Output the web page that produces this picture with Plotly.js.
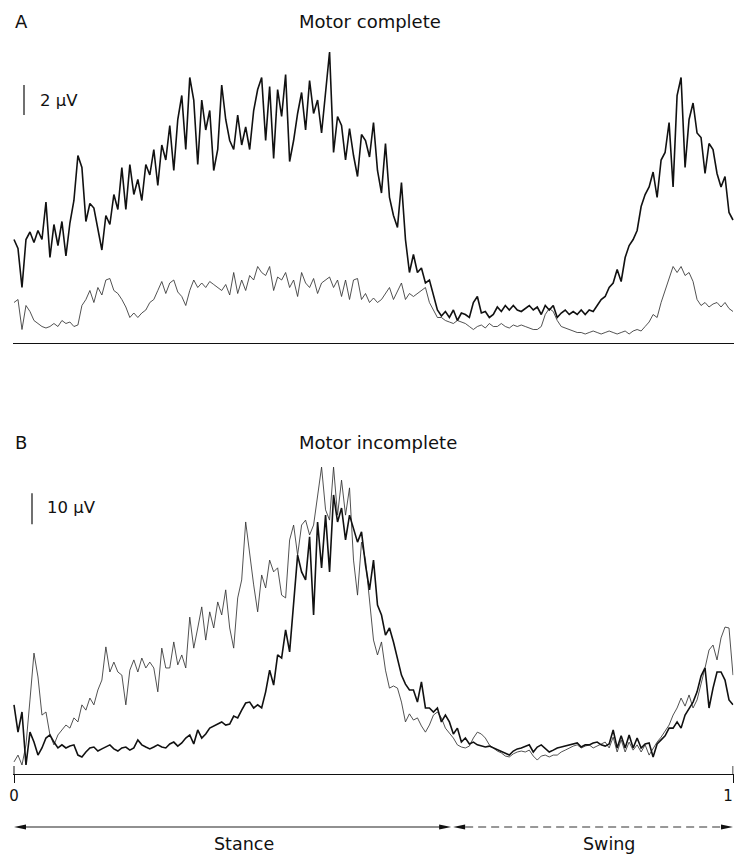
<!DOCTYPE html>
<html>
<head>
<meta charset="utf-8">
<script src="https://cdn.plot.ly/plotly-3.0.1.min.js"></script>
<style>html,body{margin:0;padding:0;background:#fff;}#chart{width:734px;height:856px;}</style>
</head>
<body>
<div id="chart"></div>
<script>
// ---------- DATA (EMG amplitude, µV, sampled uniformly over one gait cycle) ----------
// Panel A – motor complete
const completeThick = [6.9,6.3,3.7,6.9,7.4,6.7,7.5,6.9,9.4,5.7,
7.9,6.5,8.1,5.8,8.0,9.5,12.5,11.7,8.1,9.3,
9.0,7.5,6.2,8.5,7.9,9.9,8.9,11.7,8.9,11.9,
9.9,10.9,9.5,11.9,11.2,12.9,10.5,13.2,12.2,14.5,
11.5,14.9,16.5,12.9,17.7,16.2,11.9,16.2,14.2,15.5,
11.5,12.9,17.2,14.9,13.5,12.9,15.2,13.2,14.4,12.9,
15.5,16.9,17.7,13.5,17.1,12.3,16.9,15.1,17.9,12.1,
13.5,15.3,16.7,14.2,17.5,15.3,16.2,14.0,16.5,19.4,
12.7,15.1,14.5,12.2,14.3,12.5,11.1,13.9,13.5,12.4,
14.7,11.5,10.0,13.3,9.7,8.5,7.7,10.7,6.9,4.7,
5.9,4.7,5.0,4.0,4.2,3.2,2.2,1.8,2.1,1.7,
2.2,1.5,2.0,1.9,1.7,2.7,3.1,2.0,2.1,1.7,
1.9,2.4,2.1,2.5,2.2,2.5,2.2,2.1,2.3,2.5,
2.2,2.4,1.9,2.5,2.2,2.5,1.7,2.0,2.2,1.9,
2.1,1.9,2.2,1.9,2.2,2.1,2.5,2.9,3.1,3.7,
4.0,4.9,4.1,5.7,6.5,6.9,7.5,9.1,9.9,10.4,
11.4,9.7,12.2,12.7,14.7,10.4,16.5,17.7,11.7,14.9,
16.0,14.0,13.7,11.3,13.3,12.9,11.3,10.4,11.1,8.7,
8.2];
const completeThin = [2.7,2.9,0.9,2.5,2.1,1.5,1.3,1.1,1.0,1.1,
1.3,1.1,1.5,1.3,1.4,1.1,1.2,2.5,2.9,3.5,
2.7,3.7,3.2,4.2,4.3,3.5,3.3,2.9,2.4,1.7,
2.0,1.7,2.0,2.2,2.7,2.9,3.5,4.1,3.3,4.0,
4.2,3.4,3.1,2.5,3.5,4.2,3.7,4.0,3.7,4.1,
3.9,3.7,3.5,3.9,3.2,4.7,3.3,4.2,3.5,4.5,
4.2,5.1,4.7,4.5,5.1,3.5,4.4,4.2,4.7,3.7,
4.2,3.1,4.7,4.0,3.7,4.3,3.3,4.0,4.2,4.4,
3.7,4.2,3.1,4.2,2.9,4.2,4.3,2.9,3.3,2.7,
3.0,2.7,2.9,3.3,3.7,2.9,3.5,4.0,2.9,3.3,
3.1,3.3,3.5,3.7,2.7,2.2,1.7,1.7,1.5,1.4,
1.3,1.5,1.4,1.3,1.1,0.9,1.1,1.2,1.0,1.3,
1.1,1.1,1.3,1.1,1.0,1.2,1.1,1.2,1.1,1.0,
0.9,0.9,1.1,1.9,2.3,2.1,1.5,1.1,1.0,0.9,
0.8,0.7,0.7,0.6,0.7,0.8,0.7,0.6,0.7,0.8,
0.7,0.6,0.7,0.8,0.6,0.8,0.9,0.8,1.1,1.4,
1.9,1.7,2.7,3.5,4.2,5.1,4.7,5.1,4.5,4.7,
4.1,2.9,2.5,2.7,2.4,2.6,2.7,2.4,2.7,2.3,
2.1];
// Panel B – motor incomplete
const incompleteThin = [3.9,6.1,2.9,9.4,23.9,39.0,31.3,19.0,20.0,12.6,
9.4,12.6,14.2,15.8,14.8,18.1,16.8,22.3,20.6,24.5,
22.3,27.1,30.3,41.0,32.9,36.1,32.9,31.9,22.3,33.5,
36.8,32.9,37.4,34.2,36.1,34.2,26.5,40.6,34.2,34.2,
42.6,35.2,38.4,34.2,50.6,40.6,47.1,53.9,43.2,52.3,
47.1,55.5,51.3,59.4,47.1,40.6,56.8,62.6,81.3,70.6,
61.0,52.3,64.2,60.0,69.0,65.2,66.5,57.7,56.8,75.5,
80.3,70.6,80.3,81.9,77.1,80.3,89.0,99.0,85.2,81.9,
99.0,83.5,94.8,83.5,92.3,69.0,57.7,74.8,69.0,56.1,
43.2,38.4,42.6,33.5,27.7,28.4,27.7,23.2,16.8,19.4,
17.4,18.1,15.5,13.5,15.8,19.0,20.0,18.1,14.8,13.2,
11.6,9.4,8.7,8.4,9.0,11.6,13.5,12.9,11.6,9.4,
8.4,7.4,6.8,5.8,5.5,6.5,7.1,7.4,7.1,7.7,
5.8,4.5,5.8,6.1,5.5,6.1,6.1,7.1,7.7,8.4,
9.0,9.4,8.4,9.0,9.4,8.4,9.0,9.7,10.3,8.4,
11.9,7.1,11.0,7.1,10.3,7.7,9.4,7.1,9.4,6.1,
8.4,10.3,11.9,13.9,15.8,19.0,21.3,24.5,21.9,25.5,
21.3,23.9,28.7,34.2,40.0,41.6,36.8,43.9,47.4,47.1,
31.9];
const incompleteThick = [22.3,13.5,20.0,2.9,13.5,10.3,6.1,8.4,11.6,12.6,
10.3,8.4,9.4,8.4,9.0,9.4,6.1,5.5,7.1,8.4,
8.7,7.4,8.1,8.7,9.4,8.1,7.4,8.4,8.7,7.7,
8.4,11.0,9.4,8.7,8.1,8.7,9.4,8.7,8.4,9.7,
10.3,9.0,10.0,11.6,12.6,9.7,14.2,11.6,12.9,14.8,
15.5,16.1,16.8,15.8,16.1,18.7,18.1,20.6,22.9,23.2,
21.3,22.3,21.3,26.5,33.5,28.7,38.4,37.4,46.5,39.4,
54.5,70.6,65.2,62.6,76.5,51.3,81.3,66.5,83.5,65.2,
90.0,81.3,85.8,75.5,83.5,79.4,74.8,78.1,67.4,59.4,
69.0,54.5,51.3,44.8,47.1,42.6,37.4,31.9,29.0,27.1,
27.1,23.2,29.7,21.3,21.3,20.0,21.3,16.8,19.0,16.8,
12.9,14.8,10.3,11.6,9.7,10.3,9.4,9.0,8.7,9.0,
8.4,7.7,7.1,6.5,6.1,7.4,8.1,8.4,9.0,9.4,
7.1,8.7,9.4,8.1,7.1,7.7,8.4,8.7,9.0,9.4,
9.7,10.0,8.7,9.4,9.4,10.0,10.3,9.4,9.0,9.7,
14.2,8.4,12.3,8.4,12.6,8.4,11.6,8.4,9.7,10.0,
5.5,9.7,11.0,12.3,14.8,14.8,16.8,14.8,19.0,21.3,
23.2,26.5,31.6,34.2,21.3,27.7,32.9,32.9,30.3,23.9,
22.3];

const panelLetters = ['A', 'B'];
const panelTitles = ['Motor complete', 'Motor incomplete'];
const scaleBars = [2, 10];                 // µV
const scaleLabels = ['2 μV', '10 μV'];
const tickValues = [0, 1];
const tickLabels = ['0', '1'];
const phaseNames = ['Stance', 'Swing'];
const phaseBounds = [0, 0.608, 1];         // fraction of gait cycle

// ---------- FIGURE ----------
const W = 734, H = 856;
const py = p => 1 - p / H;   // pixel row -> paper y
const px = p => p / W;       // pixel col -> paper x
const phase = completeThick.map((_, i) => i / (completeThick.length - 1));
const FONT = 'DejaVu Sans, Liberation Sans, Arial, sans-serif';
const thick = {color: '#111111', width: 1.6};
const thin = {color: '#333333', width: 0.85};

const traces = [
  {x: phase, y: completeThin, xaxis: 'x', yaxis: 'y', mode: 'lines', line: thin, hoverinfo: 'skip'},
  {x: phase, y: completeThick, xaxis: 'x', yaxis: 'y', mode: 'lines', line: thick, hoverinfo: 'skip'},
  {x: phase, y: incompleteThin, xaxis: 'x2', yaxis: 'y2', mode: 'lines', line: thin, hoverinfo: 'skip'},
  {x: phase, y: incompleteThick, xaxis: 'x2', yaxis: 'y2', mode: 'lines', line: thick, hoverinfo: 'skip'},
  // same cycle drawn against the overlay axis that carries the end-of-cycle label
  {x: phase, y: incompleteThick, xaxis: 'x3', yaxis: 'y2', mode: 'lines', line: {width: 0, color: 'rgba(0,0,0,0)'}, hoverinfo: 'skip'}
];

const yArrow = py(827);
const HL = 12 / 719, HW = 2.6 / H;
const head = (tip, dir) => ({
  type: 'path', xref: 'x2', yref: 'paper',
  path: `M ${tip},${yArrow} L ${tip + dir * HL},${yArrow + HW} L ${tip + dir * HL},${yArrow - HW} Z`,
  fillcolor: '#111', line: {width: 0}
});
const gap = 2 / 719;

const shapes = [
  // scale bars
  {type: 'line', xref: 'paper', yref: 'y', x0: px(24), x1: px(24), y0: 15.2, y1: 15.2 + scaleBars[0], line: {color: '#111', width: 1.2}},
  {type: 'line', xref: 'paper', yref: 'y2', x0: px(32), x1: px(32), y0: 80.6, y1: 80.6 + scaleBars[1], line: {color: '#111', width: 1.2}},
  // upper halves of the cycle ticks
  {type: 'line', xref: 'x2', yref: 'paper', x0: tickValues[0], x1: tickValues[0], y0: py(774), y1: py(766), line: {color: '#111', width: 1}},
  {type: 'line', xref: 'x2', yref: 'paper', x0: tickValues[1], x1: tickValues[1], y0: py(774), y1: py(766), line: {color: '#111', width: 1}},
  // stance arrow (solid)
  {type: 'line', xref: 'x2', yref: 'paper', x0: phaseBounds[0] + HL * 0.5, x1: phaseBounds[1] - HL * 0.5, y0: yArrow, y1: yArrow, line: {color: '#222', width: 1.2}},
  head(phaseBounds[0], 1), head(phaseBounds[1], -1),
  // swing arrow (dashed)
  {type: 'line', xref: 'x2', yref: 'paper', x0: phaseBounds[1] + gap + HL, x1: phaseBounds[2] - HL * 0.5, y0: yArrow, y1: yArrow, line: {color: '#333', width: 1.2, dash: '8px,5px'}},
  head(phaseBounds[1] + gap, 1), head(phaseBounds[2], -1)
];

const txt = (text, x, y, size, extra) => Object.assign({
  text, x, y, xref: 'paper', yref: 'paper', xanchor: 'left', yanchor: 'middle',
  showarrow: false, font: {family: FONT, size, color: '#111'}
}, extra || {});

const annotations = [
  txt(panelLetters[0], px(13), py(21), 18),
  txt(panelTitles[0], px(297), py(21), 18),
  txt(panelLetters[1], px(13), py(442), 18),
  txt(panelTitles[1], px(297), py(442), 18),
  txt(scaleLabels[0], px(38), 16.2, 16.5, {yref: 'y'}),
  txt(scaleLabels[1], px(45), 86.1, 16.5, {yref: 'y2'}),
  txt(phaseNames[0], px(244), py(844), 17.5, {xanchor: 'center'}),
  txt(phaseNames[1], px(609), py(844), 17.5, {xanchor: 'center'})
];

const hiddenY = {showgrid: false, zeroline: false, showline: false, showticklabels: false, ticks: '', fixedrange: true};
const rangeB = [-1 / 719, 1 + 0.5 / 719];
const cycleTicks = {ticks: 'outside', ticklen: 8, tickwidth: 1, tickcolor: '#111',
                    tickfont: {family: FONT, size: 15, color: '#111'}, tickmode: 'array'};
const layout = {
  width: W, height: H,
  margin: {l: 0, r: 0, t: 0, b: 0, pad: 0},
  paper_bgcolor: '#fff', plot_bgcolor: 'rgba(0,0,0,0)',
  showlegend: false,
  font: {family: FONT, color: '#111'},
  xaxis: {domain: [px(13), 1], range: [-1 / 719, 720 / 719], anchor: 'y',
          showline: true, linecolor: '#111', linewidth: 1, showgrid: false, zeroline: false,
          ticks: '', showticklabels: false, fixedrange: true},
  yaxis: Object.assign({domain: [py(343), py(40)], range: [0, 20.2], anchor: 'x'}, hiddenY),
  // gait-cycle axis: start label
  xaxis2: Object.assign({domain: [px(13), px(733.5)], range: rangeB, anchor: 'y2',
           showline: true, linecolor: '#111', linewidth: 1, showgrid: false, zeroline: false,
           tickvals: [tickValues[0]], ticktext: [tickLabels[0]], fixedrange: true}, cycleTicks),
  // gait-cycle axis: end label (nudged inward so it stays on the page)
  xaxis3: Object.assign({overlaying: 'x2', range: rangeB, anchor: 'y2', side: 'bottom',
           showline: false, showgrid: false, zeroline: false,
           tickvals: [tickValues[1]], ticktext: [tickLabels[1]], ticklabelshift: -5, fixedrange: true}, cycleTicks),
  yaxis2: Object.assign({domain: [py(774), py(455)], range: [0, 102.9], anchor: 'x2'}, hiddenY),
  shapes, annotations
};

Plotly.newPlot('chart', traces, layout, {staticPlot: true, displayModeBar: false});
</script>
</body>
</html>
